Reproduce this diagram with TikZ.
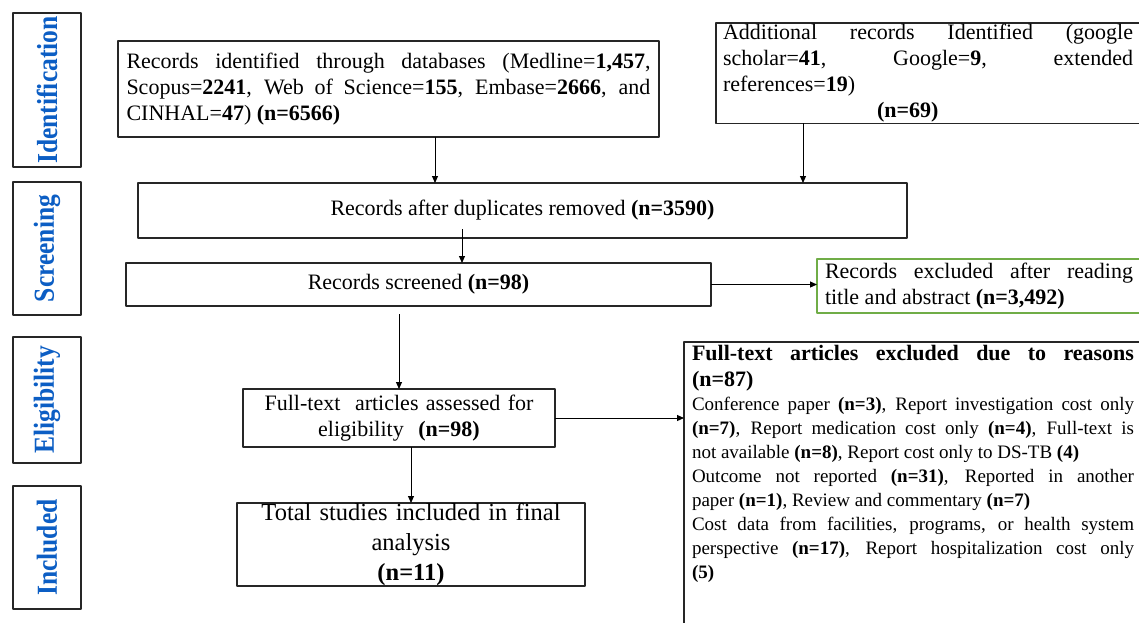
\documentclass[tikz,border=0pt]{standalone}
\usepackage{graphicx}
\usepackage{fontspec}
\setmainfont{Liberation Serif}
\usetikzlibrary{arrows.meta}
\definecolor{stageblue}{RGB}{12,94,196}
\definecolor{exclgreen}{RGB}{112,173,71}

\begin{document}
\begin{tikzpicture}[x=1pt, y=-1pt, line join=round,
    stage/.style={draw=black!85, line width=1.3pt, rotate=90, minimum height=68pt, inner sep=0pt, outer sep=0pt, text=stageblue, font=\fontsize{29}{34}\selectfont\bfseries},
    box/.style={draw=black!85, line width=1.3pt, anchor=north west, inner sep=0pt, outer sep=0pt, font=\fontsize{22}{26}\selectfont},
    arr/.style={-{Triangle[length=7pt,width=6pt]}, line width=1pt}]
          \useasboundingbox (0,0) rectangle (1139,622);
          \clip (0,0) rectangle (1139,622);
          \node[stage, minimum width=154pt] (ident) at (47,90) {\scalebox{0.88}[1]{Identification}};
          \node[stage, minimum width=133pt] (screen) at (47,248.5) {\scalebox{0.88}[1]{Screening}};
          \node[stage, minimum width=126pt] (elig) at (47,400) {\scalebox{0.88}[1]{Eligibility}};
          \node[stage, minimum width=123pt] (incl) at (47,547.5) {\scalebox{0.88}[1]{Included}};
          \node[box, minimum height=96pt, inner xsep=8.5pt, text width=524pt, align=justify] (dbrec) at (118,41) {Records identified through databases (Medline=\textbf{1,457},\linebreak Scopus=\textbf{2241}, Web of Science=\textbf{155}, Embase=\textbf{2666}, and\linebreak CINHAL=\textbf{47}) \textbf{(n=6566)}};
          \node[box, inner xsep=7pt, inner ysep=1pt, text width=410pt, align=justify] (addrec) at (716,23) {Additional records Identified (google\linebreak scholar=\textbf{41}, Google=\textbf{9}, extended\linebreak references=\textbf{19})\\\hspace*{154pt}\textbf{(n=69)}};
          \node[box, minimum width=769pt, minimum height=55pt] (dedup) at (138,183) {Records after duplicates removed \textbf{(n=3590)}};
          \node[box, minimum width=585pt, minimum height=43pt] (scrn) at (126,263) {Records screened \textbf{(n=98)}};
          \node[box, draw=exclgreen, inner xsep=8pt, text width=308pt, minimum height=54pt, align=justify] (absx) at (817,259) {Records excluded after reading\linebreak title and abstract \textbf{(n=3,492)}};
          \node[box, minimum width=312pt, minimum height=58pt, text width=300pt, align=center] (ftxt) at (243,389) {Full-text\ \ articles assessed for\\eligibility\ \ \textbf{(n=98)}};
          \node[box, minimum width=348pt, minimum height=83pt, text width=340pt, align=center, font=\fontsize{24.5}{30}\selectfont] (incstud) at (237,503) {Total studies included in final\\analysis\\\textbf{(n=11)}};
          \node[anchor=north west, inner xsep=8pt, inner ysep=3pt, outer sep=0pt, text width=442pt, align=justify] (ftx) at (684,342) {{\fontsize{22}{26}\selectfont\bfseries Full-text articles excluded due to reasons\linebreak (n=87)\par}
            \fontsize{19}{24}\selectfont Conference paper \textbf{(n=3)}, Report investigation cost only\linebreak \textbf{(n=7)}, Report medication cost only \textbf{(n=4)}, Full-text is\linebreak not available \textbf{(n=8)}, Report cost only to DS-TB \textbf{(4)}\par
            Outcome not reported \textbf{(n=31)}, Reported in another\linebreak paper \textbf{(n=1)}, Review and commentary \textbf{(n=7)}\par
            Cost data from facilities, programs, or health system\linebreak perspective \textbf{(n=17)}, Report hospitalization cost only\linebreak \textbf{(5)}\par};
          \draw[black!85, line width=1.3pt] (ftx.north east) -- (ftx.north west) -- ([yshift=-300pt]ftx.north west);
          \draw[arr] ([xshift=46.5pt]dbrec.south) -- ([xshift=46.5pt]dbrec.south |- dedup.north);
          \draw[arr] ([xshift=-125pt]addrec.south) -- ([xshift=-125pt]addrec.south |- dedup.north);
          \draw[arr] ([xshift=-60.5pt,yshift=9pt]dedup.south) -- ([xshift=-60.5pt]dedup.south |- scrn.north);
          \draw[arr] (scrn.east) -- (scrn.east -| absx.west);
          \draw[arr, shorten <=8pt] (ftxt.north |- scrn.south) -- (ftxt.north);
          \draw[arr] (ftxt.east) -- (ftxt.east -| ftx.west);
          \draw[arr] (incstud.north |- ftxt.south) -- (incstud.north);
        \end{tikzpicture}
\end{document}
